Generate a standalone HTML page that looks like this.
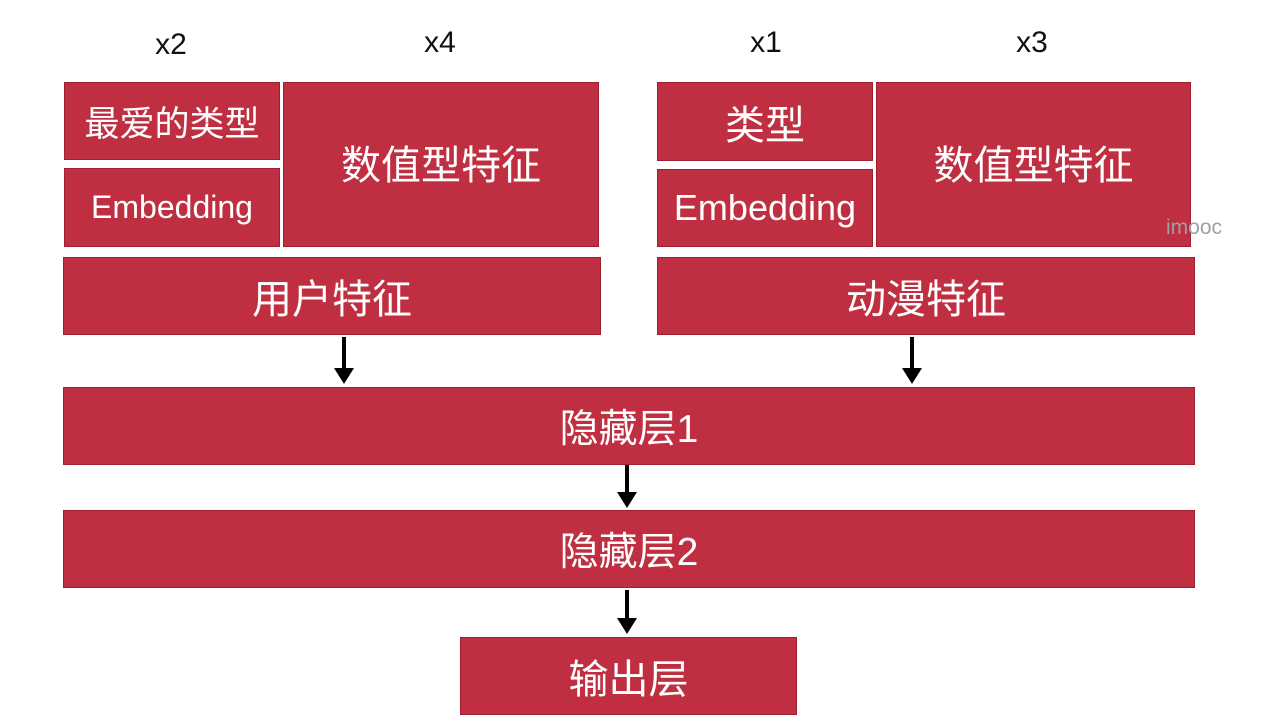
<!DOCTYPE html>
<html><head><meta charset="utf-8"><style>
body{margin:0;width:1272px;height:719px;background:#fff;position:relative;overflow:hidden;font-family:"Liberation Sans","Noto Sans CJK SC",sans-serif}
.b{position:absolute;background:#c02f41;border:1px solid #9e1f30;box-sizing:border-box;color:#fff;display:flex;align-items:center;justify-content:center;white-space:nowrap}
.t{position:absolute;font-size:30px;color:#111;transform:translateX(-50%)}
.v{position:absolute;width:4px;background:#000}
.h{position:absolute;width:0;height:0;border-left:10px solid transparent;border-right:10px solid transparent;border-top:16px solid #000}
</style></head><body>
<div class="t" style="left:171px;top:28px">x2</div>
<div class="t" style="left:440px;top:26px">x4</div>
<div class="t" style="left:766px;top:26px">x1</div>
<div class="t" style="left:1032px;top:26px">x3</div>

<div class="b" style="left:64px;top:82px;width:216px;height:78px;font-size:35px">最爱的类型</div>
<div class="b" style="left:64px;top:168px;width:216px;height:79px;font-size:32px">Embedding</div>
<div class="b" style="left:283px;top:82px;width:316px;height:165px;font-size:40px;padding-bottom:5px">数值型特征</div>
<div class="b" style="left:63px;top:257px;width:538px;height:78px;font-size:40px">用户特征</div>

<div class="b" style="left:657px;top:82px;width:216px;height:79px;font-size:40px">类型</div>
<div class="b" style="left:657px;top:169px;width:216px;height:78px;font-size:36px">Embedding</div>
<div class="b" style="left:876px;top:82px;width:315px;height:165px;font-size:40px;padding-bottom:5px">数值型特征</div>
<div class="b" style="left:657px;top:257px;width:538px;height:78px;font-size:40px">动漫特征</div>
<div style="position:absolute;left:1166px;top:216px;font-size:21px;color:#a0a0a0">imooc</div>

<div class="b" style="left:63px;top:387px;width:1132px;height:78px;font-size:39px">隐藏层1</div>
<div class="b" style="left:63px;top:510px;width:1132px;height:78px;font-size:39px">隐藏层2</div>
<div class="b" style="left:460px;top:637px;width:337px;height:78px;font-size:40px">输出层</div>

<div class="v" style="left:342px;top:337px;height:32px"></div><div class="h" style="left:334px;top:368px"></div>
<div class="v" style="left:910px;top:337px;height:32px"></div><div class="h" style="left:902px;top:368px"></div>
<div class="v" style="left:625px;top:465px;height:28px"></div><div class="h" style="left:617px;top:492px"></div>
<div class="v" style="left:625px;top:590px;height:29px"></div><div class="h" style="left:617px;top:618px"></div>
</body></html>
